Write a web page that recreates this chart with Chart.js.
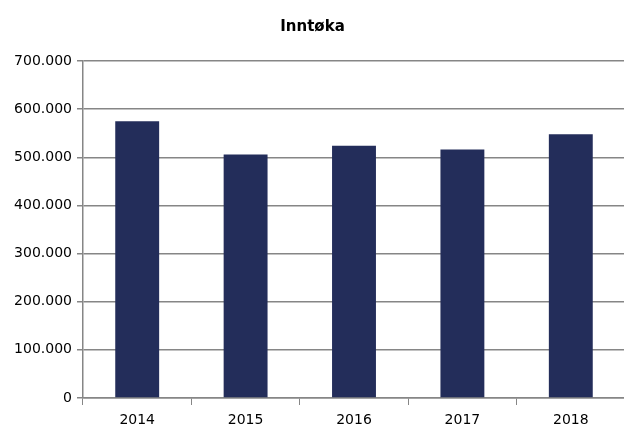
<!DOCTYPE html>
<html>
<head>
<meta charset="utf-8">
<script src="https://cdn.jsdelivr.net/npm/chart.js@4"></script>
<style>
    html, body { margin: 0; padding: 0; background: #fff; overflow: hidden; }
    #clip { width: 624px; height: 425px; overflow: hidden; position: relative; }
    #wrap { width: 638px; height: 440px; position: relative; }
</style>
</head>
<body>
<div id="clip"><div id="wrap"><canvas id="chart"></canvas></div></div>
<script>
// chart data
const years = ['2014', '2015', '2016', '2017', '2018'];
const inntoka = [575000, 506000, 524000, 516000, 548000];
const yTicks = [0, 100000, 200000, 300000, 400000, 500000, 600000, 700000];

const gridGrey = '#868686';

function formatNo(v) {
    // Norwegian style thousands separator
    return String(v).replace(/\B(?=(\d{3})+(?!\d))/g, '.');
}

Chart.defaults.font.family = "'DejaVu Sans', sans-serif";
Chart.defaults.font.size = 14;
Chart.defaults.color = '#000';

new Chart(document.getElementById('chart'), {
    type: 'bar',
    data: {
        labels: years,
        datasets: [{
            label: 'Inntøka',
            data: inntoka,
            backgroundColor: '#232d5a',
            borderWidth: 0,
            categoryPercentage: 1,
            barPercentage: 0.405
        }]
    },
    options: {
        responsive: true,
        maintainAspectRatio: false,
        animation: false,
        layout: {
            padding: { left: 0, right: 13, top: 0, bottom: 0 }
        },
        plugins: {
            legend: { display: false },
            tooltip: { enabled: false },
            title: {
                display: true,
                text: 'Inntøka',
                color: '#000',
                font: { size: 15, weight: 'bold' },
                padding: { top: 18, bottom: 25 }
            }
        },
        scales: {
            x: {
                grid: {
                    offset: true,
                    drawOnChartArea: false,
                    drawTicks: true,
                    tickLength: 7,
                    color: gridGrey
                },
                border: { color: gridGrey, width: 1.5 },
                ticks: { padding: 7, color: '#000', maxRotation: 0 },
                afterFit: s => { s.height = 42; }
            },
            y: {
                min: 0,
                max: 700000,
                afterBuildTicks: s => { s.ticks = yTicks.map(v => ({ value: v })); },
                afterFit: s => { s.width = 83; },
                grid: {
                    color: gridGrey,
                    lineWidth: 1.5,
                    drawTicks: true,
                    tickLength: 6
                },
                border: { color: gridGrey, width: 1.5 },
                ticks: {
                    padding: 5,
                    color: '#000',
                    callback: v => formatNo(v)
                }
            }
        }
    }
});
</script>
</body>
</html>
